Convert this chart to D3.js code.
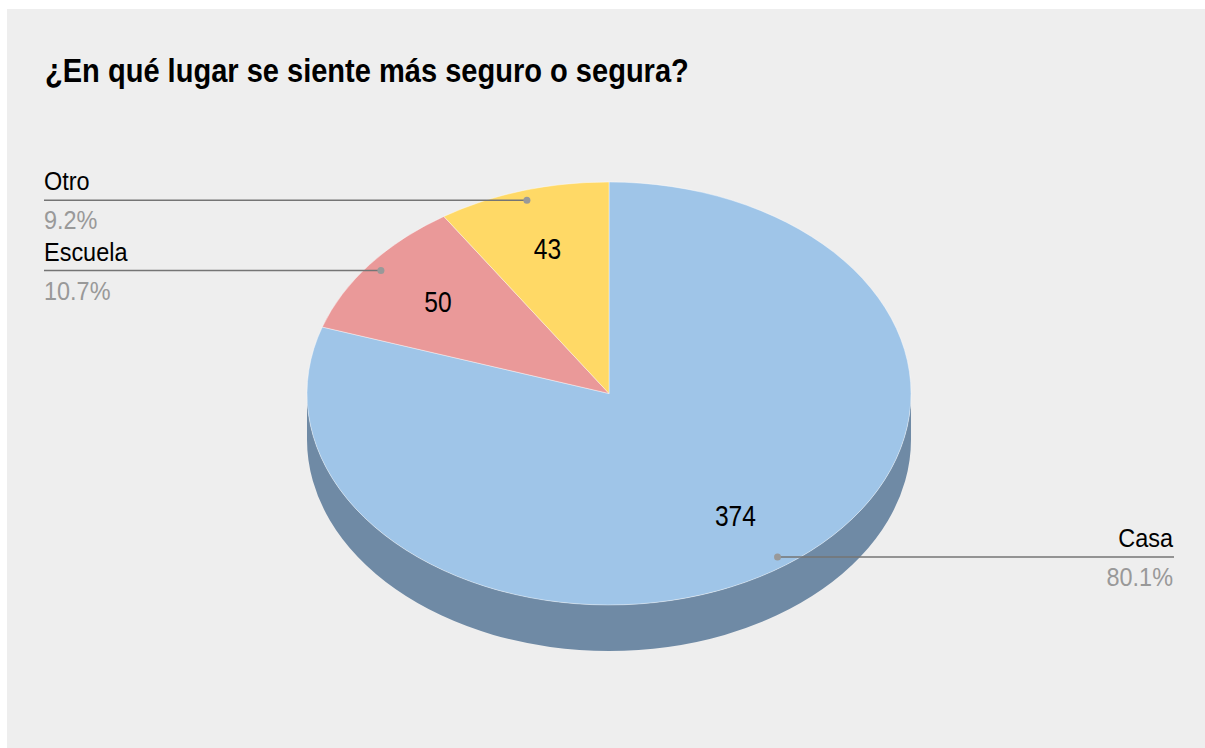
<!DOCTYPE html>
<html>
<head>
<meta charset="utf-8">
<script src="https://cdn.jsdelivr.net/npm/d3@7"></script>
<style>
  body { margin: 0; background: #fff; }
  text { font-family: "Liberation Sans Narrow", "Arial Narrow", "Liberation Sans", Arial, sans-serif; }
</style>
</head>
<body>
<div id="chart"></div>
<script>
// data
var categories = ["Casa", "Escuela", "Otro"];
var values = [374, 50, 43];
var topColors = ["#9fc5e8", "#ea9999", "#ffd966"];
var sideColors = ["#6f8aa5", "#a86d6d", "#b89b4a"];
var title = "¿En qué lugar se siente más seguro o segura?";

var width = 1205, height = 748;
var cx = 609, cy = 393.5, rx = 302, ry = 211.5, depth = 46;
var k = ry / rx;

var svg = d3.select("#chart").append("svg")
  .attr("width", width)
  .attr("height", height);

svg.append("rect")
  .attr("x", 7).attr("y", 9)
  .attr("width", width - 7).attr("height", height - 9)
  .attr("fill", "#eeeeee");

// the original uses a condensed face; squeeze the installed one horizontally
function narrowText(sel, x, y, sx) {
  return sel.append("text")
    .attr("transform", "translate(" + x + "," + y + ") scale(" + sx + ",1)");
}

narrowText(svg, 45, 82, 0.88)
  .attr("font-size", 33)
  .attr("font-weight", "bold")
  .attr("fill", "#000")
  .text(title);

var total = d3.sum(values);
var data = categories.map(function(c, i) { return { name: c, value: values[i], i: i }; });

var pie = d3.pie().sort(null).value(function(d) { return d.value; });
var arcs = pie(data);

var arc = d3.arc().innerRadius(0).outerRadius(rx);
var labelArc = d3.arc().innerRadius(rx * 0.715).outerRadius(rx * 0.715);
var dotArc = d3.arc().innerRadius(rx * 0.953).outerRadius(rx * 0.953);

// flattened pie group
var g = svg.append("g")
  .attr("transform", "translate(" + cx + "," + cy + ") scale(1," + k + ")");

// side walls (front half only)
var d = depth / k;
arcs.forEach(function(a) {
  var a0 = Math.max(a.startAngle, Math.PI / 2) - Math.PI / 2;
  var a1 = Math.min(a.endAngle, Math.PI * 3 / 2) - Math.PI / 2;
  if (a0 >= a1) return;
  var p = d3.path();
  p.moveTo(rx * Math.cos(a0), rx * Math.sin(a0));
  p.arc(0, 0, rx, a0, a1, false);
  p.lineTo(rx * Math.cos(a1), rx * Math.sin(a1) + d);
  p.arc(0, d, rx, a1, a0, true);
  p.closePath();
  g.append("path")
    .attr("d", p.toString())
    .attr("fill", sideColors[a.data.i]);
});

g.selectAll(".slice")
  .data(arcs)
  .enter().append("path")
  .attr("class", "slice")
  .attr("d", arc)
  .attr("fill", function(a) { return topColors[a.data.i]; })
  .attr("stroke", "#ffffff")
  .attr("stroke-opacity", 0.5)
  .attr("stroke-width", 0.8)
  .attr("vector-effect", "non-scaling-stroke");

function project(pt) { return [cx + pt[0], cy + pt[1] * k]; }

// values inside
arcs.forEach(function(a) {
  var p = project(labelArc.centroid(a));
  narrowText(svg, p[0], p[1], 0.82)
    .attr("text-anchor", "middle")
    .attr("dominant-baseline", "central")
    .attr("font-size", 30)
    .attr("fill", "#000")
    .text(a.data.value);
});

// leader lines + legend labels
var leftX = 44, rightX = 1174;
arcs.forEach(function(a) {
  var p = project(dotArc.centroid(a));
  var left = p[0] < cx;
  var xe = left ? leftX : rightX;
  var tx = left ? xe : xe - 1;
  var sel = svg.append("g").attr("class", "lab");
  sel.append("line")
    .attr("x1", p[0]).attr("y1", p[1])
    .attr("x2", xe).attr("y2", p[1])
    .attr("stroke", "#757575")
    .attr("stroke-width", 1.5);
  sel.append("circle")
    .attr("cx", p[0]).attr("cy", p[1])
    .attr("r", 3.5)
    .attr("fill", "#999");
  narrowText(sel, tx, p[1] - 10, 0.92)
    .attr("text-anchor", left ? "start" : "end")
    .attr("font-size", 25.5)
    .attr("fill", "#000")
    .text(a.data.name);
  narrowText(sel, tx, p[1] + 29, 0.92)
    .attr("text-anchor", left ? "start" : "end")
    .attr("font-size", 25.5)
    .attr("fill", "#999")
    .text((a.data.value / total * 100).toFixed(1) + "%");
});
</script>
</body>
</html>
